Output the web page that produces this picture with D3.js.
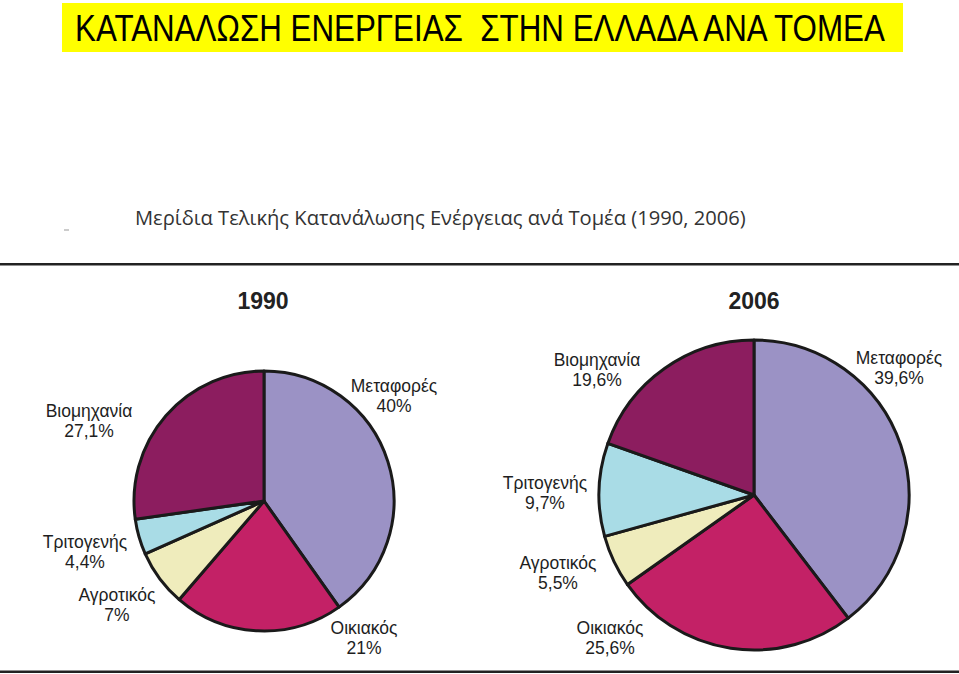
<!DOCTYPE html>
<html>
<head>
<meta charset="utf-8">
<script src="https://cdn.jsdelivr.net/npm/d3@7"></script>
<style>
  html, body { margin: 0; padding: 0; background: #fff; }
  svg { display: block; }
</style>
</head>
<body>
<script>
// ---- data ----
const sectors = ["Μεταφορές", "Οικιακός", "Αγροτικός", "Τριτογενής", "Βιομηχανία"];
const values1990 = [40, 21, 7, 4.4, 27.1];
const values2006 = [39.6, 25.6, 5.5, 9.7, 19.6];
const labels1990 = ["40%", "21%", "7%", "4,4%", "27,1%"];
const labels2006 = ["39,6%", "25,6%", "5,5%", "9,7%", "19,6%"];
const years = ["1990", "2006"];
const mainTitle = "ΚΑΤΑΝΑΛΩΣΗ ΕΝΕΡΓΕΙΑΣ  ΣΤΗΝ ΕΛΛΑΔΑ ΑΝΑ ΤΟΜΕΑ";
const subTitle = "Μερίδια Τελικής Κατανάλωσης Ενέργειας ανά Τομέα (1990, 2006)";

// ---- layout / style ----
const W = 959, H = 674;
const colors = d3.scaleOrdinal().domain(sectors)
  .range(["#9b92c5", "#c32166", "#efecbc", "#a9dce6", "#8c1d5f"]);

const svg = d3.select("body").append("svg").attr("width", W).attr("height", H);

// fit a text horizontally into a given width using a scale transform
function fitText(sel, x, y, width) {
  const natural = sel.node().getComputedTextLength();
  const k = width / natural;
  sel.attr("x", 0).attr("y", 0)
     .attr("transform", `translate(${x},${y}) scale(${k},1)`);
}

// title box
svg.append("rect").attr("x", 62).attr("y", 3).attr("width", 841).attr("height", 49).attr("fill", "#ffff00");
const tt = svg.append("text")
  .attr("font-family", "'Liberation Sans Narrow', 'Liberation Sans', Arial, sans-serif")
  .attr("font-size", 37).attr("fill", "#000")
  .style("white-space", "pre")
  .text(mainTitle);
fitText(tt, 75, 41, 810);

// subtitle
const st = svg.append("text")
  .attr("font-family", "'Open Sans', 'DejaVu Sans', sans-serif")
  .attr("font-size", 20).attr("fill", "#333")
  .text(subTitle);
fitText(st, 135, 225, 611);
svg.append("line").attr("x1", 64).attr("x2", 69).attr("y1", 230).attr("y2", 230)
  .attr("stroke", "#999").attr("stroke-width", 1);

// rules
svg.append("rect").attr("x", 0).attr("y", 263).attr("width", W).attr("height", 2.5).attr("fill", "#222");
svg.append("rect").attr("x", 0).attr("y", 670.5).attr("width", W).attr("height", 2.5).attr("fill", "#222");

const pie = d3.pie().sort(null).value(d => d);

const charts = [
  { values: values1990, labels: labels1990, cx: 264, cy: 501, r: 130, yearX: 263,
    pos: [[394, 386], [364, 628], [117, 595], [85, 542], [89, 411]] },
  { values: values2006, labels: labels2006, cx: 754, cy: 495, r: 155, yearX: 754,
    pos: [[899, 358], [610, 628], [558, 563], [545, 483], [597, 360]] }
];

charts.forEach((c, ci) => {
  const g = svg.append("g").attr("transform", `translate(${c.cx},${c.cy})`);
  const arc = d3.arc().innerRadius(0).outerRadius(c.r);
  g.selectAll("path").data(pie(c.values)).join("path")
    .attr("d", arc)
    .attr("fill", (d, i) => colors(sectors[i]))
    .attr("stroke", "#1a1a1a").attr("stroke-width", 3).attr("stroke-linejoin", "round");

  svg.append("text").attr("x", c.yearX).attr("y", 309)
    .attr("text-anchor", "middle")
    .attr("font-family", "'Liberation Sans', Arial, sans-serif")
    .attr("font-weight", "bold").attr("font-size", 23).attr("fill", "#222")
    .text(years[ci]);

  sectors.forEach((s, i) => {
    const t = svg.append("text")
      .attr("text-anchor", "middle")
      .attr("font-family", "'Liberation Sans', Arial, sans-serif")
      .attr("font-size", 17.5).attr("fill", "#1e1e1e");
    t.append("tspan").attr("x", c.pos[i][0]).attr("y", c.pos[i][1] + 6).text(s);
    t.append("tspan").attr("x", c.pos[i][0]).attr("y", c.pos[i][1] + 26).text(c.labels[i]);
  });
});
</script>
</body>
</html>
